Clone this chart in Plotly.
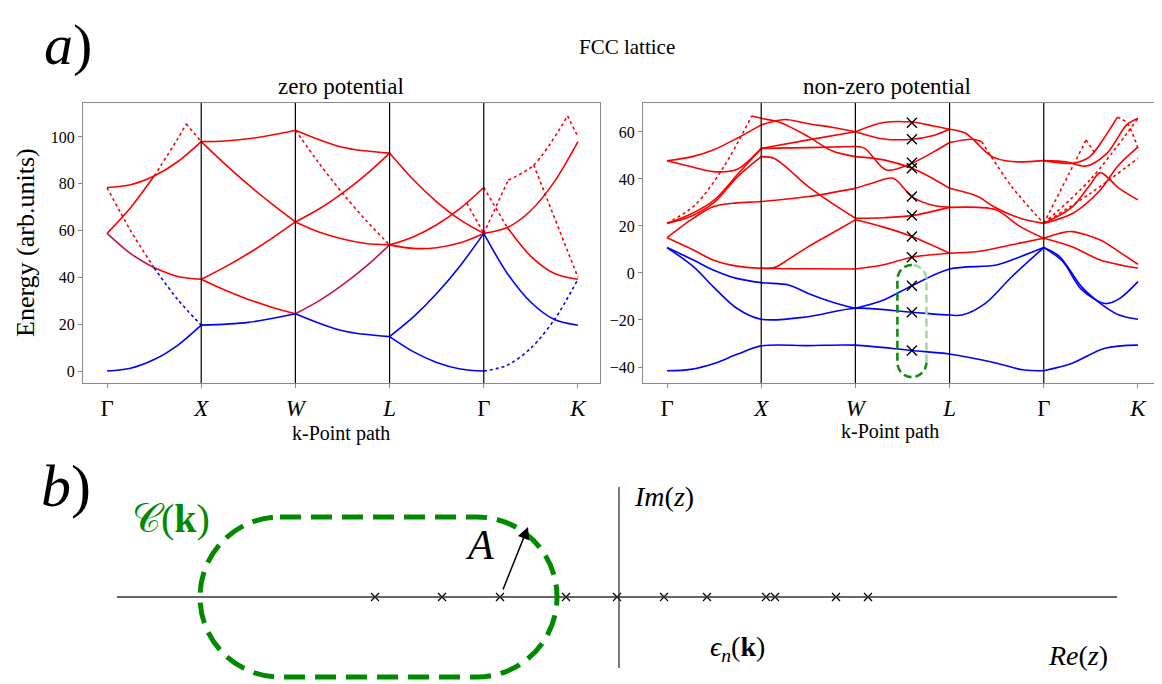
import plotly.graph_objects as go

# ---------------- data ----------------
SYM_POS = [0, 1, 2, 3, 4, 5]
SYM_TEXT = ['Γ', '<i>X</i>', '<i>W</i>', '<i>L</i>', 'Γ', '<i>K</i>']
LEFT_YTICKS = [0, 20, 40, 60, 80, 100]
RIGHT_YTICKS = [-40, -20, 0, 20, 40, 60]

# zero potential (free electron) bands: (k-path positions, energies)
LEFT_BLUE = [
    ([0, 0.25, 0.5, 0.75, 1], [0, 1.2, 4.9, 11.0, 19.6]),
    ([1, 1.5, 2], [19.6, 20.8, 24.5]),
    ([2, 2.5, 3], [24.5, 17.2, 14.7]),
    ([3, 3.25, 3.5, 3.75, 4], [14.7, 8.3, 3.7, 0.9, 0]),
    ([3, 3.25, 3.5, 3.75, 4], [14.7, 23.0, 33.1, 45.0, 58.8]),
    ([4, 4.25, 4.5, 4.75, 5], [58.8, 41.7, 29.4, 22.0, 19.6]),
]
LEFT_BLUE_DOTTED = [
    ([0.5, 0.75, 1], [44.1, 30.6, 19.6]),
    ([4, 4.25, 4.5, 4.75, 5], [0, 2.5, 9.8, 22.0, 39.2]),
]
# bands where a valence and a conduction band coincide (drawn mixed colour)
LEFT_MIXED = [
    ([0, 0.25, 0.5], [58.8, 50.2, 44.1]),
    ([2, 2.25, 2.5, 2.75, 3], [24.5, 30.0, 36.8, 44.7, 53.9]),
]
LEFT_RED = [
    ([0.5, 0.75, 1], [44.1, 40.4, 39.2]),
    ([0, 0.25, 0.5, 0.75, 1], [78.4, 79.6, 83.3, 89.4, 98.0]),
    ([0, 0.25, 0.5], [58.8, 69.8, 83.3]),
    ([1, 1.25, 1.5, 1.75, 2], [39.2, 34.6, 30.6, 27.3, 24.5]),
    ([1, 1.25, 1.5, 1.75, 2], [39.2, 44.4, 50.2, 56.7, 63.7]),
    ([1, 1.25, 1.5, 1.75, 2], [98.0, 88.5, 79.6, 71.4, 63.7]),
    ([1, 1.25, 1.5, 1.75, 2], [98.0, 98.3, 99.2, 100.8, 102.9]),
    ([2, 2.5, 3], [102.9, 95.6, 93.1]),
    ([2, 2.25, 2.5, 2.75, 3], [63.7, 69.2, 76.0, 83.9, 93.1]),
    ([2, 2.25, 2.5, 2.75, 3], [63.7, 59.4, 56.4, 54.5, 53.9]),
    ([3, 3.25, 3.5, 3.75, 4], [93.1, 81.8, 72.3, 64.6, 58.8]),
    ([3, 3.25, 3.5, 3.75, 4], [53.9, 57.3, 62.5, 69.5, 78.4]),
    ([3, 3.25, 3.5, 3.75, 4], [53.9, 52.4, 52.7, 54.8, 58.8]),
    ([4, 4.25, 4.5, 4.75, 5], [58.8, 61.3, 68.6, 80.9, 98.0]),
    ([4.25, 4.5, 4.75, 5], [61.3, 49.0, 41.7, 39.2]),
]
LEFT_RED_DOTTED = [
    ([0, 0.25, 0.5], [78.4, 60.0, 44.1]),
    ([0.5, 0.75, 0.84], [83.3, 99.2, 105.6]),
    ([0.84, 1], [105.6, 98.0]),
    ([2, 2.25, 2.5, 2.75, 3], [102.9, 88.8, 76.0, 64.3, 53.9]),
    ([3.82, 4], [71.7, 58.8]),
    ([4, 4.25], [78.4, 61.3]),
    ([4, 4.26], [58.8, 81.6]),
    ([4.26, 4.53, 4.89], [81.6, 88.0, 109.0]),
    ([4.89, 5], [109.0, 100.0]),
    ([4.53, 5], [88.0, 40.0]),
]

# non-zero potential bands
RIGHT_BLUE = [
    ([0, 0.25, 0.5, 0.75, 1, 1.5, 2, 2.6, 3, 3.5, 3.78, 4],
     [-41.6, -41.0, -38.5, -34.5, -31.0, -30.9, -30.7, -33.0, -34.5, -38.4, -41.2, -41.6]),
    ([4, 4.3, 4.65, 5], [-41.6, -38.4, -32.0, -30.7]),
    ([0, 0.28, 0.49, 0.74, 1, 1.5, 2, 2.6, 3, 3.13, 3.38, 3.66, 4],
     [10.8, 2.7, -5.8, -15.0, -19.7, -18.6, -15.0, -16.7, -17.9, -17.9, -12.9, -1.6, 10.8]),
    ([4, 4.17, 4.4, 4.6, 4.8, 5], [10.8, 6.9, -5.8, -12.9, -17.9, -19.7]),
    ([0, 0.28, 0.49, 0.74, 1, 1.29, 1.5, 1.75, 2],
     [10.8, 5.5, 1.3, -2.3, -4.1, -5.1, -8.7, -12.3, -15.0]),
    ([2, 2.3, 2.6, 3, 3.5, 3.75, 4], [-15.0, -11.5, -5.4, 1.7, 3.4, 6.9, 10.8]),
    ([4, 4.2, 4.4, 4.65, 4.8, 5], [10.8, 5.0, -7.0, -13.0, -11.0, -3.7]),
]
RIGHT_RED = [
    ([0, 0.28, 0.49, 0.74, 1, 1.5, 2], [15.0, 9.8, 5.5, 2.9, 2.0, 1.8, 1.7]),
    ([0, 0.28, 0.49, 0.74, 1, 1.5, 2], [15.0, 23.3, 28.2, 29.8, 30.4, 32.5, 36.0]),
    ([0, 0.25, 0.5, 0.75, 1], [21.1, 24.0, 30.0, 41.0, 49.5]),
    ([0, 0.25, 0.5, 0.75, 1], [21.1, 25.0, 31.0, 42.0, 53.0]),
    ([0, 0.28, 0.49, 0.74, 1], [47.7, 45.0, 43.1, 44.0, 53.0]),
    ([0, 0.28, 0.49, 0.74, 1], [47.7, 49.6, 52.3, 57.2, 63.0]),
    ([0.9, 1, 1.2, 1.5, 1.75, 2], [66.8, 65.8, 64.0, 58.0, 52.0, 49.5]),
    ([1, 1.25, 1.5, 1.75, 2], [63.0, 65.3, 63.5, 62.0, 60.1]),
    ([1, 1.5, 2], [53.0, 56.6, 60.1]),
    ([1, 1.5, 2], [53.0, 53.3, 53.8]),
    ([1, 1.14, 1.5, 1.75, 2], [49.5, 48.7, 36.7, 29.7, 23.3]),
    ([1, 1.14, 1.29, 1.5, 1.75, 2], [2.0, 2.3, 5.8, 11.2, 16.9, 22.6]),
    ([2, 2.3, 2.6, 2.83, 3], [60.1, 64.0, 64.2, 62.5, 61.1]),
    ([2, 2.3, 2.6, 2.83, 3], [60.1, 57.0, 56.9, 58.5, 61.1]),
    ([2, 2.1, 2.33, 2.6, 2.83, 3], [53.8, 53.0, 43.8, 46.7, 51.5, 55.5]),
    ([2, 2.3, 2.6, 2.83, 3], [49.5, 48.1, 44.5, 40.0, 36.0]),
    ([2, 2.2, 2.4, 2.6, 2.8, 3], [36.0, 38.5, 40.3, 32.5, 29.0, 27.9]),
    ([2, 2.3, 2.6, 3], [23.3, 23.5, 24.4, 27.9]),
    ([2, 2.3, 2.6, 3], [22.6, 19.5, 15.5, 8.4]),
    ([2, 2.3, 2.6, 3], [1.7, 3.5, 6.7, 8.4]),
    ([3, 3.17, 3.45, 3.66, 4], [61.1, 59.4, 49.5, 47.4, 47.8]),
    ([3, 3.24, 3.34], [55.5, 56.9, 55.9]),
    ([3, 3.3, 3.47, 3.75, 4], [36.0, 32.5, 28.2, 23.3, 21.1]),
    ([3, 3.3, 3.5, 3.75, 4], [27.9, 27.9, 26.8, 19.7, 14.8]),
    ([3, 3.3, 3.65, 4], [8.4, 9.1, 11.9, 14.8]),
    ([4, 4.3, 4.6, 5], [14.8, 11.2, 5.5, 2.0]),
    ([4, 4.17, 4.3, 4.6, 4.8, 5], [14.8, 16.9, 17.6, 14.0, 9.0, 3.7]),
    ([4, 4.31, 4.6, 4.78, 5], [21.1, 25.4, 35.3, 45.2, 53.6]),
    ([4, 4.3, 4.5, 4.6, 4.8, 5], [21.1, 28.0, 38.0, 42.7, 36.0, 31.1]),
    ([4, 4.31, 4.49, 4.65, 4.78], [47.8, 46.7, 49.5, 58.0, 66.2]),
    ([4, 4.25, 4.45, 4.67, 4.88, 5], [47.8, 47.2, 45.5, 50.9, 63.0, 65.8]),
]
RIGHT_RED_DOTTED = [
    ([0, 0.3, 0.6, 0.9], [21.1, 29.0, 45.0, 66.8]),
    ([3.34, 3.66, 4], [55.9, 36.7, 21.1]),
    ([4, 4.45], [21.1, 56.6]),
    ([4.45, 4.55], [56.6, 50.5]),
    ([4, 4.5, 5], [21.1, 40.0, 65.8]),
    ([4, 4.5, 5], [21.1, 34.0, 48.8]),
    ([4.78, 4.88, 5], [66.2, 64.0, 53.0]),
]

# eigenvalues marked at one k-point of the non-zero potential panel
CROSS_K = 2.6
CROSS_E = [63.9, 56.9, 46.9, 44.5, 32.5, 24.4, 15.5, 6.7, -5.4, -16.7, -33.0]

# schematic (panel b): poles on the real axis (arbitrary units)
POLES_RE = [-4.88, -3.54, -2.38, -1.06, -0.04, 0.90, 1.76, 2.94, 3.12, 4.34, 4.98]

# ---------------- figure ----------------
OFF = 8                       # page body margin of the browser
W, H = 1162 - OFF, 684 - OFF  # figure size so that the page fits the window
FONT = 'Liberation Serif, DejaVu Serif, serif'
RED, BLUE, MIXED = '#ff0000', '#0000ff', '#c4124e'
FRAME = '#8a8a8a'


def PX(px):
    return (px - OFF) / W


def PY(py):
    return 1 - (py - OFF) / H


fig = go.Figure()


def add_curves(curves, color, dash, xa, ya):
    for xs, ys in curves:
        fig.add_trace(go.Scatter(
            x=xs, y=ys, mode='lines', xaxis=xa, yaxis=ya,
            line=dict(color=color, width=1.6, dash=dash, shape='spline', smoothing=0.9),
            hoverinfo='skip', showlegend=False))


add_curves(LEFT_RED, RED, 'solid', 'x', 'y')
add_curves(LEFT_RED_DOTTED, RED, 'dot', 'x', 'y')
add_curves(LEFT_MIXED, MIXED, 'solid', 'x', 'y')
add_curves(LEFT_BLUE, BLUE, 'solid', 'x', 'y')
add_curves(LEFT_BLUE_DOTTED, BLUE, 'dot', 'x', 'y')
add_curves(RIGHT_RED, RED, 'solid', 'x2', 'y2')
add_curves(RIGHT_RED_DOTTED, RED, 'dot', 'x2', 'y2')
add_curves(RIGHT_BLUE, BLUE, 'solid', 'x2', 'y2')

fig.add_trace(go.Scatter(
    x=[CROSS_K] * len(CROSS_E), y=CROSS_E, mode='markers', xaxis='x2', yaxis='y2',
    marker=dict(symbol='x-thin', size=10, line=dict(color='black', width=1.4)),
    hoverinfo='skip', showlegend=False))

fig.add_trace(go.Scatter(
    x=POLES_RE, y=[0] * len(POLES_RE), mode='markers', xaxis='x3', yaxis='y3',
    marker=dict(symbol='x-thin', size=8, line=dict(color='black', width=1.2)),
    hoverinfo='skip', showlegend=False))

# axes geometry (reference pixel positions)
LX = [PX(83), PX(600)]
RX = [PX(643), PX(1160)]
TY = [PY(383), PY(103)]

xcommon = dict(range=[-0.255, 5.234], tickvals=SYM_POS, ticktext=SYM_TEXT,
               showline=True, mirror=True, linecolor=FRAME, linewidth=1,
               ticks='outside', ticklen=4, tickcolor=FRAME, showgrid=False,
               zeroline=False, tickfont=dict(family=FONT, size=23, color='black'),
               automargin=False)
ycommon = dict(showline=True, mirror=True, linecolor=FRAME, linewidth=1,
               ticks='outside', ticklen=4, tickcolor=FRAME, showgrid=False,
               zeroline=False, tickfont=dict(family=FONT, size=16, color='black'),
               automargin=False, domain=TY)

fig.update_layout(
    width=W, height=H, margin=dict(l=0, r=0, t=0, b=0),
    paper_bgcolor='white', plot_bgcolor='white', showlegend=False,
    xaxis=dict(domain=LX, anchor='y', **xcommon),
    yaxis=dict(anchor='x', range=[-5.1, 114.5], tickvals=LEFT_YTICKS, **ycommon),
    xaxis2=dict(domain=RX, anchor='y2', **xcommon),
    yaxis2=dict(anchor='x2', range=[-46.8, 72.3], tickvals=RIGHT_YTICKS, **ycommon),
    xaxis3=dict(domain=[0, 1], anchor='y3', range=[(OFF - 619) / 50, (1162 - 619) / 50],
                visible=False),
    yaxis3=dict(domain=[0, PY(410)], anchor='x3', range=[-1.74, 3.74], visible=False),
)

shapes = []
for xa in ['x', 'x2']:
    for xv in SYM_POS[1:-1]:
        shapes.append(dict(type='line', xref=xa, yref=xa.replace('x', 'y') + ' domain',
                           x0=xv, x1=xv, y0=0, y1=1, line=dict(color='black', width=1.2)))

# schematic axes
shapes.append(dict(type='line', xref='x3', yref='y3', x0=-10.04, x1=9.96, y0=0, y1=0,
                   line=dict(color='#333333', width=1.3)))
shapes.append(dict(type='line', xref='x3', yref='y3', x0=0, x1=0, y0=-1.42, y1=2.2,
                   line=dict(color='#333333', width=1.3)))

# contour C(k) in the schematic (stadium shape)
k = 0.5523
r = 1.6
lc, rc = -6.78, -2.84
path = (f"M {lc},{r} L {rc},{r} "
        f"C {rc + k * r},{r} {rc + r},{k * r} {rc + r},0 "
        f"C {rc + r},{-k * r} {rc + k * r},{-r} {rc},{-r} "
        f"L {lc},{-r} "
        f"C {lc - k * r},{-r} {lc - r},{-k * r} {lc - r},0 "
        f"C {lc - r},{k * r} {lc - k * r},{r} {lc},{r} Z")
shapes.append(dict(type='path', xref='x3', yref='y3', path=path,
                   line=dict(color='#008a00', width=5, dash='21px,10px')))

# small contour in the right band plot
cx, rx = CROSS_K, 0.154
top, bot, ry = 3.4, -44.3, 6.17
s_top, s_bot = top - ry, bot + ry
dark = (f"M {cx},{top} C {cx - k * rx},{top} {cx - rx},{s_top + k * ry} {cx - rx},{s_top} "
        f"L {cx - rx},{s_bot} C {cx - rx},{s_bot - k * ry} {cx - k * rx},{bot} {cx},{bot} "
        f"C {cx + k * rx},{bot} {cx + rx},{s_bot - k * ry} {cx + rx},{s_bot}")
light = (f"M {cx + rx},{s_bot} L {cx + rx},{s_top} "
         f"C {cx + rx},{s_top + k * ry} {cx + k * rx},{top} {cx},{top}")
shapes.append(dict(type='path', xref='x2', yref='y2', path=dark,
                   line=dict(color='#138a13', width=2.6, dash='8px,4px')))
shapes.append(dict(type='path', xref='x2', yref='y2', path=light,
                   line=dict(color='#a6d8a6', width=2.6, dash='8px,4px')))

fig.update_layout(shapes=shapes)


def ann(text, px, py, size, color='black', angle=0, xanchor='center'):
    fig.add_annotation(text=text, x=PX(px), y=PY(py), xref='paper', yref='paper',
                       showarrow=False, textangle=angle, xanchor=xanchor, yanchor='middle',
                       font=dict(family=FONT, size=size, color=color))


ann('<i>a</i>)', 68, 44, 58)
ann('<i>b</i>)', 66, 486, 60)
ann('FCC lattice', 627, 47, 21)
ann('zero potential', 341, 86, 23)
ann('non-zero potential', 887, 86, 23)
ann('Energy (arb.units)', 26, 243, 26, angle=-90)
ann('k-Point path', 341, 433, 20)
ann('k-Point path', 890, 431, 20)
ann('𝒞(<b>k</b>)', 171, 518, 40, color='#008a00')
ann('<i>A</i>', 479, 545, 42)
ann('<i>Im</i>(<i>z</i>)', 632, 496, 28, xanchor='left')
ann('<i>ϵ</i><sub><i>n</i></sub>(<b>k</b>)', 737, 648, 28)
ann('<i>Re</i>(<i>z</i>)', 1078, 655, 28)

# arrow from a pole to the contour (radius A)
fig.add_annotation(x=-1.82, y=1.4, ax=POLES_RE[2], ay=0, xref='x3', yref='y3',
                   axref='x3', ayref='y3', showarrow=True, arrowhead=2, arrowsize=1.6,
                   arrowwidth=1.5, arrowcolor='black', text=' ')

fig.write_html('out.html')
